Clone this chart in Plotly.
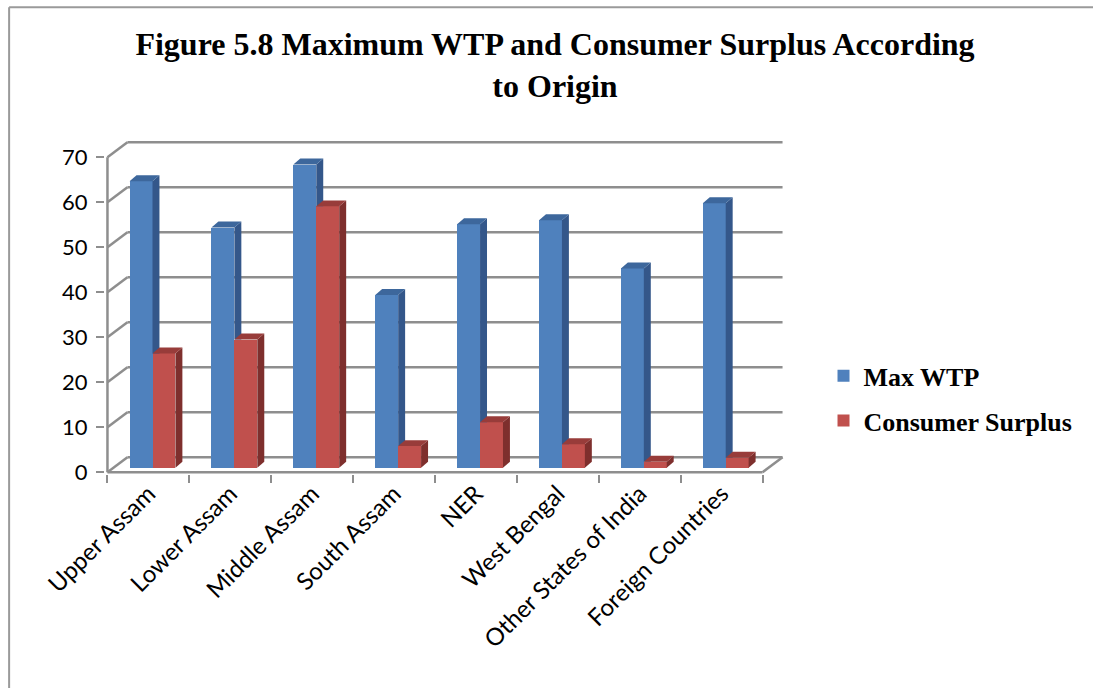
import plotly.graph_objects as go

categories = ["Upper Assam", "Lower Assam", "Middle Assam", "South Assam", "NER",
              "West Bengal", "Other States of India", "Foreign Countries"]
max_wtp = [63.7, 53.4, 67.4, 38.4, 54.1, 55.0, 44.3, 58.8]
consumer_surplus = [25.4, 28.5, 58.1, 4.8, 10.1, 5.2, 1.3, 2.2]
y_ticks = [0, 10, 20, 30, 40, 50, 60, 70]

# 3D box geometry (data units)
D = 0.244      # wall depth in x units
DY = 3.33      # wall depth in y units
BASE = 1.0     # bar plane offset in y
XOFF = 0.05    # bar plane offset in x
BW = 0.28      # bar width
SDX = 0.085    # bar side depth x
SDY = 1.33     # bar side depth y

BLUE = "#4f81bd"; BLUE_SIDE = "#34578a"; BLUE_TOP = "#3d679c"
RED = "#c0504d"; RED_SIDE = "#7e2f2d"; RED_TOP = "#983c3a"
GRID = "#8e8e8e"

n = len(categories)
centers = [i + 0.5 for i in range(n)]
blue_x = [c + XOFF - BW / 2 for c in centers]
red_x = [c + XOFF + BW / 2 for c in centers]

fig = go.Figure()
fig.add_trace(go.Bar(x=blue_x, y=max_wtp, base=[BASE] * n, width=BW, name="<b>Max WTP</b>",
                     marker=dict(color=BLUE, line=dict(width=0)), legendgroup="a"))
fig.add_trace(go.Bar(x=red_x, y=consumer_surplus, base=[BASE] * n, width=BW,
                     name="<b>Consumer Surplus</b>",
                     marker=dict(color=RED, line=dict(width=0)), legendgroup="b"))


def poly(xs, ys, color):
    fig.add_trace(go.Scatter(x=xs + [xs[0]], y=ys + [ys[0]], fill="toself", fillcolor=color,
                             mode="lines", line=dict(width=0, color=color),
                             showlegend=False, hoverinfo="skip"))


for i in range(n):
    b, r = max_wtp[i], consumer_surplus[i]
    # blue side (hidden below red top)
    xr = blue_x[i] + BW / 2
    xl = blue_x[i] - BW / 2
    top = BASE + b
    low = BASE + min(r, b)
    poly([xr, xr + SDX, xr + SDX, xr], [low, low, top + SDY, top], BLUE_SIDE)
    poly([xl, xl + SDX, xr + SDX, xr], [top, top + SDY, top + SDY, top], BLUE_TOP)
    # red side and top
    xr2 = red_x[i] + BW / 2
    xl2 = red_x[i] - BW / 2
    top2 = BASE + r
    poly([xr2, xr2 + SDX, xr2 + SDX, xr2], [BASE, BASE + SDY, top2 + SDY, top2], RED_SIDE)
    poly([xl2, xl2 + SDX, xr2 + SDX, xr2], [top2, top2 + SDY, top2 + SDY, top2], RED_TOP)

shapes = []
for v in y_ticks:
    shapes.append(dict(type="line", xref="x", yref="y", x0=0, y0=v, x1=D, y1=v + DY,
                       line=dict(color=GRID, width=2.5), layer="below"))
    shapes.append(dict(type="line", xref="x", yref="y", x0=D, y0=v + DY, x1=n + D, y1=v + DY,
                       line=dict(color=GRID, width=2.5), layer="below"))
shapes.append(dict(type="line", xref="x", yref="y", x0=0, y0=0, x1=0, y1=y_ticks[-1],
                   line=dict(color=GRID, width=2.5), layer="below"))
shapes.append(dict(type="line", xref="x", yref="y", x0=0, y0=0, x1=n, y1=0,
                   line=dict(color=GRID, width=2.5), layer="below"))
shapes.append(dict(type="line", xref="x", yref="y", x0=n, y0=0, x1=n + D, y1=DY,
                   line=dict(color=GRID, width=2.5), layer="below"))
# outer frame (left and top)
shapes.append(dict(type="line", xref="paper", yref="paper", x0=-0.141, y0=-0.7, x1=-0.141, y1=1.402,
                   line=dict(color="#9a9a9a", width=2)))
shapes.append(dict(type="line", xref="paper", yref="paper", x0=-0.141, y0=1.402, x1=1.5, y1=1.402,
                   line=dict(color="#9a9a9a", width=2)))

fig.update_layout(
    width=1093, height=688,
    margin=dict(l=104.54, r=307.56, t=140.7, b=214.2),
    paper_bgcolor="white", plot_bgcolor="rgba(0,0,0,0)",
    barmode="overlay", bargap=0,
    shapes=shapes,
    title=dict(text="<b>Figure 5.8 Maximum WTP and Consumer Surplus According<br>to Origin</b>",
               x=555 / 1093, xanchor="center", xref="container",
               y=1 - 55 / 688, yanchor="top", yref="container",
               font=dict(family="Liberation Serif", size=32, color="black")),
    legend=dict(x=(824 - 104.54) / 680.9, xanchor="left", y=(473.8 - 352) / 333.1, yanchor="top",
                font=dict(family="Liberation Serif", size=26, color="black"),
                tracegroupgap=8, bgcolor="rgba(0,0,0,0)", traceorder="grouped"),
    xaxis=dict(range=[-0.03, n + D + 0.03], tickmode="array", tickvals=centers, ticktext=categories,
               tickangle=-45, ticks="", showgrid=False, zeroline=False, showline=False,
               tickfont=dict(family="Lato", size=24, color="black"),
               minor=dict(tickmode="linear", tick0=0, dtick=1, ticks="outside", ticklen=8,
                          tickwidth=2, tickcolor=GRID, showgrid=False)),
    yaxis=dict(range=[-0.4, y_ticks[-1] + DY + 0.3], tickmode="array", tickvals=y_ticks,
               ticks="outside", ticklen=8, tickwidth=2, tickcolor=GRID, showgrid=False,
               zeroline=False, showline=False, ticklabelstandoff=4,
               tickfont=dict(family="Lato", size=22, color="black")),
)

fig.write_html("out.html")
